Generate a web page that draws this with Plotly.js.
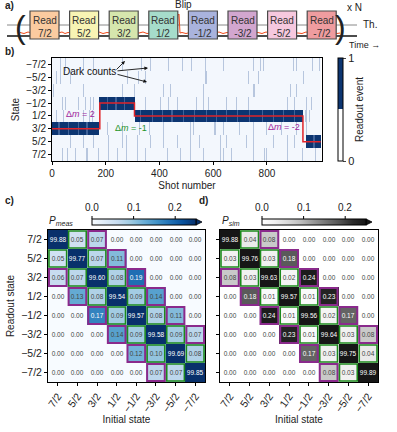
<!DOCTYPE html>
<html>
<head>
<meta charset="utf-8">
<script src="https://cdn.plot.ly/plotly-3.0.1.min.js"></script>
<style>
  html, body { margin: 0; padding: 0; background: #fff; }
  #chart { width: 397px; height: 432px; }
</style>
</head>
<body>
<div id="chart"></div>
<script>
// ---------- data ----------
// panel a: read sequence
var readLabels = ['7/2', '5/2', '3/2', '1/2', '-1/2', '-3/2', '-5/2', '-7/2'];
var readColors = ['#fbcba0', '#f8f4b4', '#d6e6ad', '#a6dccb', '#a9b3dd', '#d2a6cf', '#f6c8de', '#ef9c9f'];
// schematic photon signal (time in px, level)
var sigT = [20, 24, 28, 32, 58, 62, 65, 68, 72, 95, 99, 103, 107, 111, 135, 139, 143, 147, 151,
            174, 177, 178, 179, 180, 182, 186, 190, 215, 219, 223, 227, 231, 254, 258, 262, 266, 270,
            294, 298, 302, 306, 310, 333, 337, 340];
var sigV = [32.5, 33.5, 32, 33, 33, 32, 33.5, 32.5, 33, 33, 32, 33.5, 32.5, 33, 32.5, 33, 32, 33.5, 33,
            32.5, 33, 15, 14, 33, 32.5, 33.5, 32.5, 33, 32, 33.5, 32.5, 33, 33, 32.5, 33.5, 32, 33,
            32.5, 33, 33.5, 32, 33, 32.5, 33.5, 33];

// panel b: single shot trajectory
var stateVals = [-3.5, -2.5, -1.5, -0.5, 0.5, 1.5, 2.5, 3.5];
var stateLabels = ['\u22127/2', '\u22125/2', '\u22123/2', '\u22121/2', '1/2', '3/2', '5/2', '7/2'];
var bandFrom = [0, 178, 307, 946];
var bandTo = [178, 307, 934, 1000];
var bandState = [1.5, -0.5, 0.5, 2.5];
var bandGapShots = [24, 62, 99, 130, 205, 236, 268, 330, 372, 410, 445, 490, 530, 575, 610, 650,
                    690, 735, 780, 820, 860, 900, 975];
var jumpShots = [0, 178, 307, 934, 1000];
var jumpState = [1.5, -0.5, 0.5, 2.5, 2.5];
// dark counts, one list per state row (top = -7/2)
var darkShots = [
  [31, 49, 118, 155, 262, 335, 366, 434, 484, 518, 568, 636, 748, 773, 785, 897, 909, 971, 995],
  [19, 31, 68, 280, 322, 347, 568, 575, 729, 766, 934],
  [6, 118, 260, 304, 415, 440, 562, 748, 754, 884, 910],
  [37, 49, 99, 124, 143, 155, 347, 403, 434, 465, 537, 562, 580, 648, 686, 729, 872, 903, 946, 965],
  [19, 43, 118, 136, 149, 940, 946, 956],
  [205, 260, 325, 360, 415, 512, 524, 605, 636, 698, 748, 797, 853, 909, 946],
  [68, 118, 155, 211, 260, 279, 316, 366, 415, 465, 512, 549, 624, 649, 723, 748, 822, 872, 900],
  [37, 56, 87, 130, 174, 211, 242, 279, 316, 347, 428, 478, 512, 562, 624, 636, 667, 748, 791, 797, 872, 928, 977]
];

// panels c, d: readout matrices (%)
var matLabels = ['7/2', '5/2', '3/2', '1/2', '\u22121/2', '\u22123/2', '\u22125/2', '\u22127/2'];
var pMeas = [
  [99.88, 0.05, 0.07, 0.00, 0.00, 0.00, 0.00, 0.00],
  [0.05, 99.77, 0.07, 0.11, 0.00, 0.00, 0.00, 0.00],
  [0.06, 0.07, 99.60, 0.08, 0.19, 0.00, 0.00, 0.00],
  [0.00, 0.13, 0.08, 99.54, 0.09, 0.14, 0.00, 0.00],
  [0.00, 0.00, 0.17, 0.09, 99.57, 0.08, 0.11, 0.00],
  [0.00, 0.00, 0.00, 0.14, 0.09, 99.58, 0.09, 0.07],
  [0.00, 0.00, 0.00, 0.00, 0.12, 0.10, 99.69, 0.08],
  [0.00, 0.00, 0.00, 0.00, 0.00, 0.07, 0.07, 99.85]
];
var pSim = [
  [99.88, 0.04, 0.08, 0.00, 0.00, 0.00, 0.00, 0.00],
  [0.03, 99.76, 0.03, 0.18, 0.00, 0.00, 0.00, 0.00],
  [0.08, 0.03, 99.63, 0.02, 0.24, 0.00, 0.00, 0.00],
  [0.00, 0.18, 0.01, 99.57, 0.01, 0.23, 0.00, 0.00],
  [0.00, 0.00, 0.24, 0.01, 99.56, 0.02, 0.17, 0.00],
  [0.00, 0.00, 0.00, 0.23, 0.01, 99.64, 0.03, 0.08],
  [0.00, 0.00, 0.00, 0.00, 0.17, 0.03, 99.75, 0.04],
  [0.00, 0.00, 0.00, 0.00, 0.00, 0.08, 0.03, 99.89]
];
var cbTicks = [0, 0.1, 0.2];

// ---------- helpers ----------
var W = 397, H = 432;
var FONT = 'Liberation Sans, Arial, sans-serif';
function px(v) { return v / W; }
function py(v) { return 1 - v / H; }

var blues = [[0, '#f7fbff'], [0.125, '#deebf7'], [0.25, '#c6dbef'], [0.375, '#9ecae1'], [0.5, '#6baed6'],
             [0.625, '#4292c6'], [0.75, '#2171b5'], [0.875, '#08519c'], [1, '#08306b']];
var greys = [[0, '#ffffff'], [0.125, '#f0f0f0'], [0.25, '#d9d9d9'], [0.375, '#bdbdbd'], [0.5, '#969696'],
             [0.625, '#737373'], [0.75, '#525252'], [0.875, '#2a2a2a'], [1, '#161616']];
var shotScale = [[0, '#f3f7fd'], [0.4, '#aabcd7'], [0.72, '#3f6298'], [1, '#0c3571']];
var binaryScale = [[0, '#ffffff'], [0.5, '#ffffff'], [0.5, '#0c3571'], [1, '#0c3571']];

// ---------- build panel b grid ----------
var binW = 4, nBins = 250;
var binX = [];
for (var b = 0; b < nBins; b++) binX.push(b * binW + binW / 2);
var zShots = stateVals.map(function () { return binX.map(function () { return 0; }); });
bandState.forEach(function (m, k) {
  var r = stateVals.indexOf(m);
  binX.forEach(function (c, b) { if (c >= bandFrom[k] && c < bandTo[k]) zShots[r][b] = 1; });
});
bandGapShots.forEach(function (s) {
  var b = Math.floor(s / binW);
  for (var k = 0; k < bandFrom.length; k++) {
    if (s >= bandFrom[k] && s < bandTo[k]) zShots[stateVals.indexOf(bandState[k])][b] = 0.72;
  }
});
darkShots.forEach(function (list, r) {
  list.forEach(function (s) {
    var b = Math.floor(s / binW);
    if (zShots[r][b] < 0.33) zShots[r][b] = 0.33;
  });
});

var idx = [0, 1, 2, 3, 4, 5, 6, 7];

var data = [
  // panel a signal
  { type: 'scatter', mode: 'lines', x: sigT, y: sigV, xaxis: 'x4', yaxis: 'y4',
    line: { color: '#f04a1a', width: 1 }, hoverinfo: 'none', showlegend: false },
  // panel b
  { type: 'heatmap', x: binX, y: stateVals, z: zShots, zmin: 0, zmax: 1, colorscale: shotScale,
    showscale: false, hoverinfo: 'none', xaxis: 'x', yaxis: 'y' },
  { type: 'scatter', mode: 'lines', x: jumpShots, y: jumpState, line: { color: '#e0242a', width: 1.5, shape: 'hv' },
    hoverinfo: 'none', showlegend: false, xaxis: 'x', yaxis: 'y' },
  { type: 'scatter', mode: 'markers', x: [null], y: [null], xaxis: 'x', yaxis: 'y', showlegend: false, hoverinfo: 'none',
    marker: { color: [0], cmin: 0, cmax: 1, colorscale: binaryScale, showscale: true,
      colorbar: { x: px(338), xanchor: 'left', y: py(58), yanchor: 'top', len: 103, lenmode: 'pixels',
        thickness: 5, thicknessmode: 'pixels', outlinewidth: 1, outlinecolor: '#000', xpad: 0, ypad: 0,
        tickvals: [0, 1], ticktext: ['0', '1'], ticks: 'outside', ticklen: 3, tickfont: { size: 11 },
        title: { text: 'Readout event', side: 'right', font: { size: 10 } } } } },
  // panel c
  { type: 'heatmap', x: idx, y: idx, z: pMeas, zmin: 0, zmax: 0.25, colorscale: blues, xaxis: 'x2', yaxis: 'y2',
    texttemplate: '%{z:.2f}', textfont: { size: 6.5, family: FONT }, hoverinfo: 'none',
    colorbar: { orientation: 'h', x: px(144), xanchor: 'center', y: py(219), yanchor: 'top', len: 104, lenmode: 'pixels',
      thickness: 6, thicknessmode: 'pixels', outlinewidth: 1, outlinecolor: '#000', xpad: 0, ypad: 0,
      showticklabels: false, ticks: '' } },
  // panel d
  { type: 'heatmap', x: idx, y: idx, z: pSim, zmin: 0, zmax: 0.25, colorscale: greys, xaxis: 'x3', yaxis: 'y3',
    texttemplate: '%{z:.2f}', textfont: { size: 6.5, family: FONT }, hoverinfo: 'none',
    colorbar: { orientation: 'h', x: px(314), xanchor: 'center', y: py(219), yanchor: 'top', len: 104, lenmode: 'pixels',
      thickness: 6, thicknessmode: 'pixels', outlinewidth: 1, outlinecolor: '#000', xpad: 0, ypad: 0,
      showticklabels: false, ticks: '' } }
];

// ---------- shapes ----------
var shapes = [];
// panel a lines
shapes.push({ type: 'line', xref: 'x4', yref: 'y4', x0: 7, x1: 357, y0: 25, y1: 25, line: { color: '#888', width: 1 }, layer: 'below' });
shapes.push({ type: 'line', xref: 'x4', yref: 'y4', x0: 7, x1: 357, y0: 36, y1: 36, line: { color: '#111', width: 1.5 }, layer: 'below' });
var boxX = [];
readLabels.forEach(function (lab, i) {
  var x0 = 30 + i * 39.6;
  boxX.push(x0 + 14.5);
  shapes.push({ type: 'rect', xref: 'x4', yref: 'y4', x0: x0, x1: x0 + 29, y0: 11, y1: 39,
    fillcolor: readColors[i], line: { color: '#4a4a4a', width: 1.2 }, layer: 'above' });
});
// matrix borders
var green = '#1c8a1c', purple = '#8a2a8c';
function cellBorders(xr, yr) {
  for (var i = 0; i < 8; i++) for (var j = 0; j < 8; j++) {
    var d = Math.abs(i - j);
    if (d === 1 || d === 2) {
      shapes.push({ type: 'rect', xref: xr, yref: yr, x0: j - 0.45, x1: j + 0.45, y0: i - 0.45, y1: i + 0.45,
        line: { color: d === 1 ? green : purple, width: d === 1 ? 1.6 : 2 } });
    }
  }
}
cellBorders('x2', 'y2');
cellBorders('x3', 'y3');
// colorbar extension triangles and tick marks (ticks on top)
[[92, '#08306b'], [262, '#161616']].forEach(function (cb) {
  var end = cb[0] + 104;
  shapes.push({ type: 'path', xref: 'paper', yref: 'paper',
    path: 'M' + px(end) + ',' + py(219) + ' L' + px(end + 6) + ',' + py(222) + ' L' + px(end) + ',' + py(225) + ' Z',
    fillcolor: cb[1], line: { color: '#000', width: 0.8 } });
  cbTicks.forEach(function (t) {
    var x = cb[0] + t / 0.25 * 104;
    shapes.push({ type: 'line', xref: 'paper', yref: 'paper', x0: px(x), x1: px(x), y0: py(216), y1: py(219),
      line: { color: '#000', width: 1 } });
  });
});

// ---------- annotations ----------
var ann = [];
function txt(text, x, y, opts) {
  var a = { text: text, x: px(x), y: py(y), xref: 'paper', yref: 'paper', showarrow: false,
    font: { size: 10, color: '#222' }, xanchor: 'center', yanchor: 'middle' };
  for (var k in opts) a[k] = opts[k];
  ann.push(a);
}
readLabels.forEach(function (lab, i) {
  ann.push({ text: 'Read<br>' + lab, x: boxX[i], y: 26.5, xref: 'x4', yref: 'y4', showarrow: false,
    font: { size: 10, color: '#333' } });
});
txt('(', 20, 27, { font: { size: 32, color: '#222' } });
txt(')', 340, 27, { font: { size: 32, color: '#222' } });
txt('Blip', 183, 5, {});
txt('x N', 354, 7, {});
txt('Th.', 370, 25, {});
txt('Time \u2192', 364, 45, { font: { size: 9, color: '#222' } });
txt('<b>a)</b>', 3, 6, { xanchor: 'left' });
txt('<b>b)</b>', 3, 51, { xanchor: 'left' });
txt('<b>c)</b>', 3, 200, { xanchor: 'left' });
txt('<b>d)</b>', 197, 200, { xanchor: 'left' });
txt('Dark counts', 89, 71, { font: { size: 10, color: '#111' } });
[[125, 61, -10, 10], [148, 68, -32, 3], [147, 82, -31, -8]].forEach(function (a) {
  ann.push({ x: px(a[0]), y: py(a[1]), xref: 'paper', yref: 'paper', ax: a[2], ay: a[3], text: '',
    showarrow: true, arrowhead: 2, arrowsize: 0.8, arrowwidth: 0.9, arrowcolor: '#111' });
});
txt('\u0394<i>m</i> = 2', 80, 114, { font: { size: 9, color: '#a0259c' } });
txt('\u0394<i>m</i> = -1', 131, 128, { font: { size: 9, color: '#23942a' } });
txt('\u0394<i>m</i> = -2', 284, 127, { font: { size: 9, color: '#a0259c' } });
txt('<i>P</i><sub><i>meas</i></sub>', 47, 221, { xanchor: 'left' });
txt('<i>P</i><sub><i>sim</i></sub>', 220, 221, { xanchor: 'left' });
[92, 262].forEach(function (x0) {
  cbTicks.forEach(function (t) { txt(t.toFixed(1), x0 + t / 0.25 * 104, 208, { font: { size: 10, color: '#222' } }); });
});

// ---------- axes ----------
function frame(extra) {
  var a = { showline: true, mirror: true, linecolor: '#000', linewidth: 1, zeroline: false, showgrid: false,
    ticks: 'outside', ticklen: 3, tickcolor: '#000', tickfont: { size: 10, color: '#222' } };
  for (var k in extra) a[k] = extra[k];
  return a;
}

var layout = {
  width: W, height: H,
  margin: { l: 0, r: 0, t: 0, b: 0 },
  paper_bgcolor: '#fff', plot_bgcolor: '#fff',
  font: { family: FONT, color: '#222', size: 10 },
  showlegend: false,
  xaxis: frame({ domain: [px(52), px(322)], range: [0, 1005], anchor: 'y', tickvals: [0, 200, 400, 600, 800],
    title: { text: 'Shot number', font: { size: 10 }, standoff: 3 } }),
  yaxis: frame({ domain: [py(161), py(58)], range: [4, -4], anchor: 'x', tickvals: stateVals, ticktext: stateLabels,
    title: { text: 'State', font: { size: 10 }, standoff: 4 } }),
  xaxis2: frame({ domain: [px(48), px(205)], range: [-0.5, 7.5], anchor: 'y2', tickvals: idx, ticktext: matLabels,
    tickangle: -55, tickfont: { size: 10.5, color: '#222' }, title: { text: 'Initial state', font: { size: 10 }, standoff: 2 } }),
  yaxis2: frame({ domain: [py(382), py(230)], range: [7.5, -0.5], anchor: 'x2', tickvals: idx, ticktext: matLabels,
    tickfont: { size: 10.5, color: '#222' }, title: { text: 'Readout state', font: { size: 10 }, standoff: 4 } }),
  xaxis3: frame({ domain: [px(220), px(378)], range: [-0.5, 7.5], anchor: 'y3', tickvals: idx, ticktext: matLabels,
    tickangle: -55, tickfont: { size: 10.5, color: '#222' }, title: { text: 'Initial state', font: { size: 10 }, standoff: 2 } }),
  yaxis3: frame({ domain: [py(382), py(230)], range: [7.5, -0.5], anchor: 'x3', tickvals: idx, showticklabels: false }),
  xaxis4: { domain: [0, 1], range: [0, W], visible: false, anchor: 'y4', fixedrange: true },
  yaxis4: { domain: [py(52), 1], range: [52, 0], visible: false, anchor: 'x4', fixedrange: true },
  shapes: shapes,
  annotations: ann
};

Plotly.newPlot('chart', data, layout, { staticPlot: true, displayModeBar: false });
</script>
</body>
</html>
